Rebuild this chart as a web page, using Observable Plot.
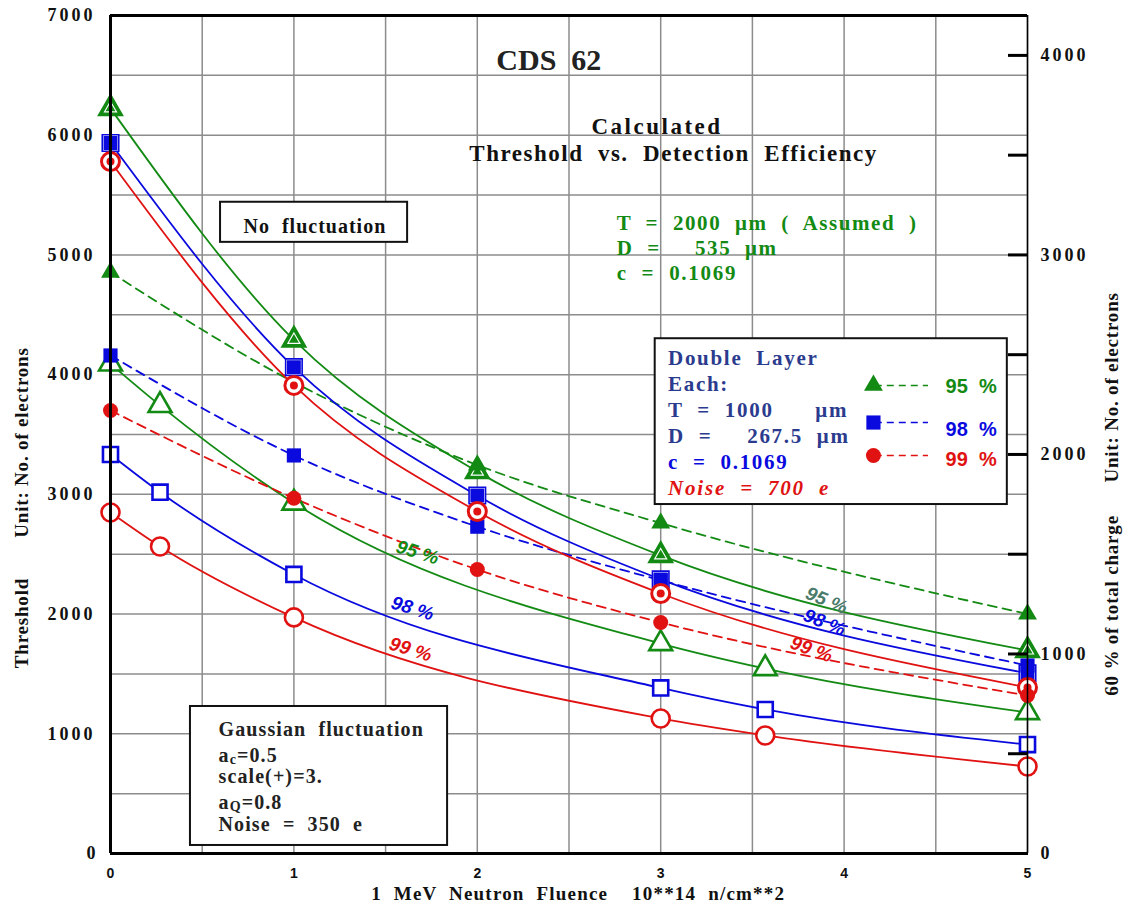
<!DOCTYPE html>
<html>
<head>
<meta charset="utf-8">
<script src="https://cdn.jsdelivr.net/npm/d3@7"></script>
<script src="https://cdn.jsdelivr.net/npm/@observablehq/plot@0.6"></script>
<style>
  html, body { margin: 0; padding: 0; background: #fff; }
  #chart svg { display: block; }
  #chart svg text { white-space: pre; }
</style>
</head>
<body>
<div id="chart"></div>
<script>
// Fluence values (10**14 n/cm**2)
const fluenceMain = [0, 1, 2, 3, 5];
const fluenceGauss = [0, 0.27, 1, 3, 3.57, 5];

// Detection efficiency labels
const efficiencies = ["95 %", "98 %", "99 %"];

// Single layer, no fluctuation (solid, open+inner markers)
const noFluct95 = [6224, 4290, 3190, 2490, 1696];
const noFluct98 = [5935, 4063, 2990, 2290, 1505];
const noFluct99 = [5780, 3910, 2857, 2172, 1387];

// Double layer, each T = 1000 um, noise 700 e (dashed, filled markers)
const double95 = [4855, 3937, 3245, 2760, 2000];
const double98 = [4160, 3325, 2730, 2282, 1570];
const double99 = [3701, 2968, 2372, 1930, 1320];

// Gaussian fluctuation, noise 350 e (solid, open markers)
const gauss95 = [4090, 3743, 2928, 1754, 1545, 1178];
const gauss98 = [3333, 3018, 2331, 1383, 1203, 910];
const gauss99 = [2849, 2565, 1972, 1128, 986, 727];

// Axis ticks
const xTicks = [0, 1, 2, 3, 4, 5];
const leftTicks = [0, 1000, 2000, 3000, 4000, 5000, 6000, 7000];
const rightTicks = [0, 500, 1000, 1500, 2000, 2500, 3000, 3500, 4000];
const chargeFraction = 0.6; // right axis = 60 % of total charge

// Text blocks
const xTitle = "1  MeV  Neutron  Fluence    10**14  n/cm**2";
const leftTitles = ["Threshold", "Unit: No. of electrons"];
const rightTitles = ["60 % of total charge", "Unit: No. of electrons"];
const titleLines = ["CDS  62", "Calculated", "Threshold  vs.  Detection  Efficiency"];
const singleLayerLines = ["T  =  2000  μm  (  Assumed  )", "D  =     535  μm", "c  =  0.1069"];
const noFluctLabel = "No  fluctuation";
const doubleLines = ["Double  Layer", "Each:", "T  =  1000      μm", "D  =     267.5  μm", "c  =  0.1069", "Noise  =  700  e"];
const gaussLines = ["Gaussian  fluctuation", "ac=0.5", "scale(+)=3.", "aQ=0.8", "Noise  =  350  e"];

const green = "#138a13", blue = "#0a0ade", red = "#e01212";
const slate = "#2b3b8e", teal = "#4b7b6a", gridGray = "#8c8c8c";
const serif = "Liberation Serif, Times New Roman, serif";
const sans = "Liberation Sans, Arial, sans-serif";

const series = [
  {eff: efficiencies[0], color: green, symbol: "triangle", noFluct: noFluct95, dbl: double95, gauss: gauss95},
  {eff: efficiencies[1], color: blue, symbol: "square", noFluct: noFluct98, dbl: double98, gauss: gauss98},
  {eff: efficiencies[2], color: red, symbol: "circle", noFluct: noFluct99, dbl: double99, gauss: gauss99}
];

const rows = (xs, ys) => xs.map((x, i) => ({x, y: ys[i]}));

// glyph spacing (px) for the wide serif labels, applied after rendering
const spacing = new Map();
for (const v of [1000, 2000, 3000, 4000, 5000, 6000, 7000]) spacing.set(String(v), 3);
const serifText = (lines, x, y, gap, opts = {}) => {
  for (const l of lines) spacing.set(l, gap);
  return Plot.text(lines, {x, y, text: d => d, fontFamily: serif, fontWeight: "bold", fill: "#111", ...opts});
};

const marks = [];

// grid
marks.push(
  Plot.gridX(d3.range(0, 5.01, 0.5), {stroke: gridGray, strokeOpacity: 1, strokeWidth: 1.5}),
  Plot.gridY(d3.range(0, 7001, 500), {stroke: gridGray, strokeOpacity: 1, strokeWidth: 1.5})
);

// annotation boxes
marks.push(
  Plot.rect([0], {x1: 0.60, x2: 1.62, y1: 5105, y2: 5440, fill: "white", stroke: "#111", strokeWidth: 2}),
  Plot.rect([0], {x1: 2.97, x2: 4.89, y1: 2915, y2: 4300, fill: "white", stroke: "#111", strokeWidth: 2}),
  Plot.rect([0], {x1: 0.436, x2: 1.838, y1: 67, y2: 1228, fill: "white", stroke: "#111", strokeWidth: 2})
);

// curves
for (const s of series) {
  marks.push(
    Plot.line(rows(fluenceMain, s.noFluct), {x: "x", y: "y", stroke: s.color, strokeWidth: 1.8, curve: "monotone-x"}),
    Plot.line(rows(fluenceMain, s.dbl), {x: "x", y: "y", stroke: s.color, strokeWidth: 1.8, strokeDasharray: "9,6", curve: "monotone-x"}),
    Plot.line(rows(fluenceGauss, s.gauss), {x: "x", y: "y", stroke: s.color, strokeWidth: 1.8, curve: "monotone-x"})
  );
}

// markers
const openR = {triangle: 8.5, square: 8.5, circle: 9};
const fillR = {triangle: 7, square: 8, circle: 7.5};
for (const s of series) {
  // Gaussian fluctuation: open markers
  marks.push(Plot.dot(rows(fluenceGauss, s.gauss), {x: "x", y: "y", symbol: s.symbol, r: openR[s.symbol], fill: "white", stroke: s.color, strokeWidth: 2.6}));
  // no fluctuation: open marker with inner mark
  const nf = rows(fluenceMain, s.noFluct);
  if (s.symbol === "triangle") {
    marks.push(
      Plot.dot(nf, {x: "x", y: "y", symbol: "triangle", r: 9, fill: s.color, stroke: s.color, strokeWidth: 1.5}),
      Plot.dot(nf, {x: "x", y: "y", symbol: "triangle", r: 4.5, fill: "none", stroke: "white", strokeWidth: 1.1})
    );
  } else if (s.symbol === "square") {
    marks.push(
      Plot.dot(nf, {x: "x", y: "y", symbol: "square", r: 8.5, fill: s.color, stroke: "white", strokeWidth: 1.2}),
      Plot.dot(nf, {x: "x", y: "y", symbol: "square", r: 9.3, fill: "none", stroke: s.color, strokeWidth: 1.6})
    );
  } else {
    marks.push(
      Plot.dot(nf, {x: "x", y: "y", symbol: "circle", r: 9, fill: "white", stroke: s.color, strokeWidth: 3}),
      Plot.dot(nf, {x: "x", y: "y", symbol: "circle", r: 4, fill: s.color})
    );
  }
  // double layer: filled markers
  marks.push(Plot.dot(rows(fluenceMain, s.dbl), {x: "x", y: "y", symbol: s.symbol, r: fillR[s.symbol], fill: s.color}));
}

// plot frame
marks.push(
  Plot.ruleY([7000], {stroke: "#000", strokeWidth: 3}),
  Plot.ruleY([0], {stroke: "#000", strokeWidth: 3}),
  Plot.ruleX([0], {stroke: "#000", strokeWidth: 3}),
  Plot.ruleX([5], {stroke: "#000", strokeWidth: 1.5})
);

// axes
marks.push(
  Plot.axisX(xTicks, {tickSize: 0, tickPadding: 15, tickFormat: d => String(d), fontFamily: sans, fontWeight: "bold", fontSize: 14, fill: "#111", label: null}),
  Plot.axisY(leftTicks, {anchor: "left", tickSize: 0, tickPadding: 15, tickFormat: d => String(d), fontFamily: serif, fontWeight: "bold", fontSize: 18, fill: "#111", label: null}),
  Plot.axisY(rightTicks.map(r => r / chargeFraction), {
    anchor: "right", tickSize: 20, dx: -20, tickPadding: 13, strokeWidth: 3, stroke: "#000",
    fontFamily: serif, fontWeight: "bold", fontSize: 18, fill: "#111", label: null,
    tickFormat: d => { const r = Math.round(d * chargeFraction); return r % 1000 === 0 ? String(r) : ""; }
  })
);

// axis titles
marks.push(
  serifText([xTitle], 2.55, 0, 1.2, {dy: 40, fontSize: 19, textAnchor: "middle"}),
  serifText(leftTitles, -0.484, (d, i) => [1925, 3433][i], 0.8, {rotate: -90, fontSize: 19}),
  serifText(rightTitles, 5.462, (d, i) => [2072, 3893][i], 0.8, {rotate: -90, fontSize: 19})
);

// titles
marks.push(
  serifText([titleLines[0]], 2.39, 6625, 0, {fontSize: 30, fill: "#222"}),
  serifText([titleLines[1]], 2.98, 6073, 2.5, {fontSize: 23}),
  serifText([titleLines[2]], 3.07, 5848, 1.5, {fontSize: 23})
);

// single layer parameters
marks.push(
  serifText(singleLayerLines, 2.76, (d, i) => [5263, 5054, 4845][i], 1.6, {fontSize: 21, fill: green, textAnchor: "start"})
);

// no fluctuation label
marks.push(serifText([noFluctLabel], 0.725, 5238, 1.0, {fontSize: 20, textAnchor: "start"}));

// double layer box
marks.push(
  serifText(doubleLines.slice(0, 4), 3.04, (d, i) => [4135, 3918, 3701, 3484][i], 1.7, {fontSize: 21, fill: slate, textAnchor: "start"}),
  serifText([doubleLines[4]], 3.04, 3266, 1.7, {fontSize: 21, fill: blue, textAnchor: "start"}),
  serifText([doubleLines[5]], 3.04, 3049, 1.8, {fontSize: 21, fill: red, fontStyle: "italic", textAnchor: "start"})
);
const legendY = [3910, 3600, 3325];
const legendTextY = [3896, 3545, 3294];
series.forEach((s, i) => {
  marks.push(
    Plot.ruleY([legendY[i]], {x1: 4.17, x2: 4.46, stroke: s.color, strokeWidth: 1.5, strokeDasharray: "7,5"}),
    Plot.dot([s], {x: 4.16, y: legendY[i], symbol: s.symbol, r: fillR[s.symbol], fill: s.color}),
    Plot.text([s.eff], {x: 4.553, y: legendTextY[i], text: d => d.replace(" ", "  "), fontFamily: sans, fontWeight: "bold", fontSize: 20, fill: s.color, textAnchor: "start"})
  );
});

// gaussian fluctuation box
marks.push(
  serifText(gaussLines, 0.589, (d, i) => [1036, 819, 643, 426, 242][i], 1.1, {fontSize: 20, fill: "#222", textAnchor: "start"})
);

// inline curve labels
const inline = [
  {t: efficiencies[0], x: 1.674, y: 2515, c: green, a: 17},
  {t: efficiencies[1], x: 1.647, y: 2047, c: blue, a: 17},
  {t: efficiencies[2], x: 1.636, y: 1704, c: red, a: 17},
  {t: efficiencies[0], x: 3.904, y: 2113, c: teal, a: 22},
  {t: efficiencies[1], x: 3.893, y: 1930, c: blue, a: 22},
  {t: efficiencies[2], x: 3.822, y: 1704, c: red, a: 20}
];
for (const l of inline) {
  marks.push(Plot.text([l.t], {x: l.x, y: l.y, text: d => d, rotate: l.a, fill: l.c, fontFamily: sans, fontWeight: "bold", fontStyle: "italic", fontSize: 19}));
}

const chart = Plot.plot({
  width: 1123,
  height: 904,
  marginLeft: 110,
  marginRight: 96,
  marginTop: 15,
  marginBottom: 51,
  x: {domain: [0, 5]},
  y: {domain: [0, 7000]},
  style: {background: "white", overflow: "visible"},
  marks
});

document.getElementById("chart").appendChild(chart);

const svg = d3.select(chart);
svg.selectAll("text").each(function() {
  const el = d3.select(this);
  const content = this.textContent;
  const gap = spacing.get(content);
  if (gap) el.style("letter-spacing", `${gap}px`).attr("letter-spacing", gap);
  // subscripts in a_c and a_Q
  const m = /^a([cQ])(=.*)$/.exec(content);
  if (m) {
    el.text("");
    el.append("tspan").text("a");
    el.append("tspan").attr("font-size", 14).attr("dy", 2).text(m[1]);
    el.append("tspan").attr("dy", -2).text(m[2]);
  }
});
</script>
</body>
</html>
